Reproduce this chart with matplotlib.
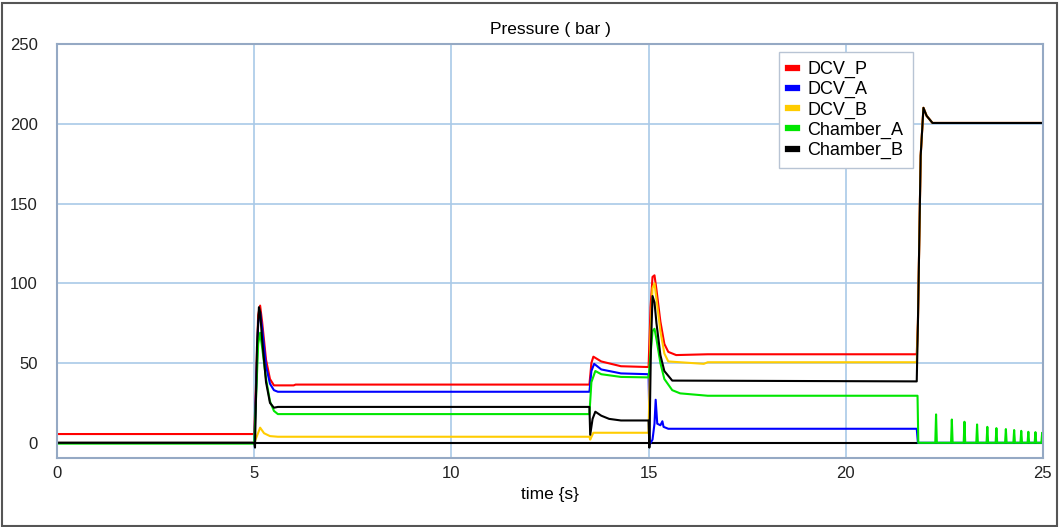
import matplotlib
matplotlib.use("Agg")
import matplotlib.pyplot as plt
from matplotlib.patches import Rectangle

plt.rcParams['font.family'] = ['Liberation Sans', 'DejaVu Sans']

# breakpoints: time (s), pressure (bar)
t_dcv_p = [0, 5.0, 5.05, 5.1, 5.15, 5.2, 5.3, 5.4, 5.5, 6.0, 6.05, 13.5, 13.55, 13.6,
           13.8, 14.3, 15.0, 15.05, 15.1, 15.15, 15.2, 15.3, 15.4, 15.5, 15.7, 16.5,
           21.8, 21.83, 21.9, 21.97, 22.05, 22.2, 25]
p_dcv_p = [5.5, 5.5, 40, 80, 86, 76, 52, 40, 36, 36, 36.5, 36.5, 50, 54,
           51, 48, 47.5, 85, 104, 105, 96, 76, 62, 57, 55, 55.5,
           55.5, 75, 180, 210, 205, 200.5, 200.5]

t_dcv_a = [0, 5.0, 5.05, 5.1, 5.15, 5.2, 5.3, 5.4, 5.5, 5.6, 13.5, 13.55, 13.62,
           13.8, 14.3, 15.0, 15.03, 15.1, 15.15, 15.18, 15.22, 15.3, 15.35, 15.38,
           15.5, 21.8, 21.83, 25]
p_dcv_a = [0, 0, 35, 75, 82, 72, 48, 37, 33, 32, 32, 45, 49.5,
           46, 43.5, 43, -1, 2, 12, 27, 12, 11, 13.5, 10,
           8.8, 8.8, 0, 0]

t_dcv_b = [0, 5.0, 5.05, 5.15, 5.25, 5.4, 5.6, 13.5, 13.52, 13.6, 15.0, 15.05, 15.1,
           15.15, 15.2, 15.3, 15.4, 15.5, 16.4, 16.5, 21.8, 21.83, 21.9, 21.97,
           22.05, 22.2, 25]
p_dcv_b = [0, 0, 3, 9.5, 6, 4.2, 3.8, 3.8, 2, 6.3, 6.3, 70, 97,
           100, 90, 70, 56, 51, 49.5, 50.5, 50.5, 75, 180, 210,
           205, 200.5, 200.5]

t_ch_a = [0, 5.0, 5.05, 5.1, 5.15, 5.2, 5.3, 5.4, 5.5, 5.6, 13.5, 13.55, 13.65,
          13.8, 14.3, 15.0, 15.05, 15.1, 15.15, 15.2, 15.3, 15.4, 15.6, 15.8, 16.5,
          21.82, 21.84,
          22.27, 22.29, 22.31, 22.67, 22.69, 22.71, 22.99, 23.01, 23.03,
          23.31, 23.33, 23.35, 23.57, 23.59, 23.61, 23.8, 23.82, 23.84,
          24.04, 24.06, 24.08, 24.25, 24.27, 24.29, 24.43, 24.45, 24.47,
          24.61, 24.63, 24.65, 24.79, 24.81, 24.83, 24.96, 24.98, 25.0]
p_ch_a = [-0.5, -0.5, 30, 62, 69, 60, 40, 26, 20, 18, 18, 38, 45,
          43, 41.3, 41, 55, 70, 71.5, 65, 50, 40, 33, 31, 29.5,
          29.5, 0,
          0, 17.8, 0, 0, 14.6, 0, 0, 13.2, 0,
          0, 11.5, 0, 0, 10, 0, 0, 9.2, 0,
          0, 8.6, 0, 0, 8, 0, 0, 7.5, 0,
          0, 6.9, 0, 0, 6.7, 0, 0, 6.3, 0]

t_ch_b = [0, 5.0, 5.02, 5.07, 5.12, 5.15, 5.2, 5.3, 5.4, 5.5, 5.6, 13.5, 13.52,
          13.58, 13.65, 13.8, 14.0, 14.3, 15.0, 15.02, 15.06, 15.1, 15.15, 15.2,
          15.3, 15.4, 15.6, 21.8, 21.83, 21.9, 21.97, 22.05, 22.2, 25]
p_ch_b = [0, 0, -3, 60, 85, 82, 65, 38, 25, 22, 22.5, 22.5, 5,
          15, 19.5, 17, 15, 14, 14, -3, 60, 92, 88, 75,
          55, 45, 39, 38.5, 75, 180, 210, 205, 200.5, 200.5]

series = [
    ("DCV_P", t_dcv_p, p_dcv_p, "#ff0000"),
    ("DCV_A", t_dcv_a, p_dcv_a, "#0000ff"),
    ("DCV_B", t_dcv_b, p_dcv_b, "#ffcc00"),
    ("Chamber_A", t_ch_a, p_ch_a, "#00e600"),
    ("Chamber_B", t_ch_b, p_ch_b, "#000000"),
]

fig = plt.figure(figsize=(10.64, 5.27), dpi=100)
ax = fig.add_axes([0.0536, 0.131, 0.9266, 0.7855])

# zero line
ax.axhline(0, color="black", lw=1.5, zorder=1.5)

for name, t, p, c in series:
    ax.plot(t, p, color=c, lw=1.5, label=name, zorder=2)

ax.set_xlim(0, 25)
ax.set_ylim(-9.5, 250)
ax.set_xticks([0, 5, 10, 15, 20, 25])
ax.set_yticks([0, 50, 100, 150, 200, 250])
ax.grid(True, color="#a9c9e8", lw=1.2, zorder=0)
ax.set_axisbelow(True)
ax.tick_params(length=0, labelsize=12, colors="#222222")
ax.tick_params(axis="x", pad=6)
ax.tick_params(axis="y", pad=14)
for s in ax.spines.values():
    s.set_color("#95a9c4")
    s.set_linewidth(1.5)

ax.set_title("Pressure ( bar )", fontsize=12.5, pad=7)
ax.set_xlabel("time {s}", fontsize=12.5, labelpad=4)

leg = ax.legend(loc="upper left", bbox_to_anchor=(0.732, 0.981), borderaxespad=0,
                fontsize=13, handlelength=0.5, handletextpad=0.6, labelspacing=0.17,
                borderpad=0.5, fancybox=False, framealpha=1,
                edgecolor="#b8c4d4")
for h in leg.get_lines():
    h.set_linewidth(4.5)

# outer frame of the window
fig.patches.append(Rectangle((0.002, 0.002), 0.991, 0.993, transform=fig.transFigure,
                             fill=False, edgecolor="#555555", lw=1.5))

fig.savefig("out.png", dpi=100)
